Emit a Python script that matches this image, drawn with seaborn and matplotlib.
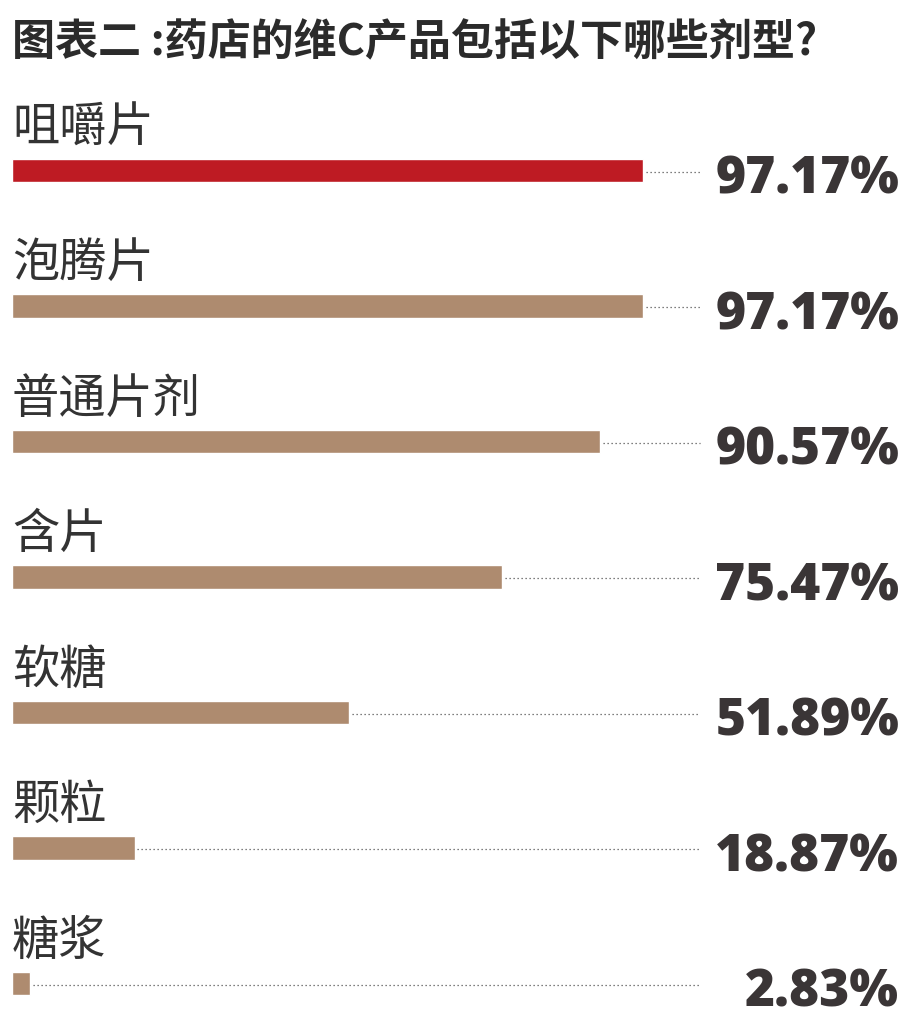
import matplotlib
matplotlib.use("Agg")
import matplotlib.pyplot as plt
import seaborn as sns
import pandas as pd

sns.set_style("white")
plt.rcParams["font.family"] = ["Noto Sans CJK SC", "DejaVu Sans"]
plt.rcParams["axes.unicode_minus"] = False

title = "图表二 :药店的维C产品包括以下哪些剂型?"
categories = ["咀嚼片", "泡腾片", "普通片剂", "含片", "软糖", "颗粒", "糖浆"]
values = [97.17, 97.17, 90.57, 75.47, 51.89, 18.87, 2.83]
bar_colors = ["#BE1B23", "#AE8B6F", "#AE8B6F", "#AE8B6F", "#AE8B6F", "#AE8B6F", "#AE8B6F"]

df = pd.DataFrame({"剂型": categories, "比例": values})

fig = plt.figure(figsize=(9.14, 10.19), dpi=100)
ax = fig.add_axes([0, 0, 1, 1])

sns.barplot(data=df, x="比例", y="剂型", hue="剂型", palette=bar_colors,
            orient="h", width=0.17, legend=False, ax=ax, saturation=1)

# pixel mapping: x px = 12 + v*6.494 ; y px = 170.5 + 135.5*i
ax.set_xlim(-12 / 6.494, (914 - 12) / 6.494)
ax.set_ylim((1019 - 170.5) / 135.5, -170.5 / 135.5)
ax.axis("off")

dot_end = (700 - 12) / 6.494
for i, (cat, v) in enumerate(zip(categories, values)):
    ax.text(0, i - 0.31, cat, fontsize=34, color="#333333",
            ha="left", va="center")
    ax.hlines(i + 0.01, v + 0.4, dot_end, colors="#555555",
              linestyles=(0, (1, 2.2)), linewidth=0.9)
    ax.text(136.6, i + 0.17, f"{v:.2f}%", fontsize=37, fontweight="heavy",
            family=["Open Sans", "DejaVu Sans"], color="#3A3536",
            ha="right", va="baseline")

fig.text(12 / 914, 1 - 42 / 1019, title, fontsize=31, fontweight="heavy",
         color="#2B2B2B", ha="left", va="center")

fig.savefig("out.png", dpi=100)
